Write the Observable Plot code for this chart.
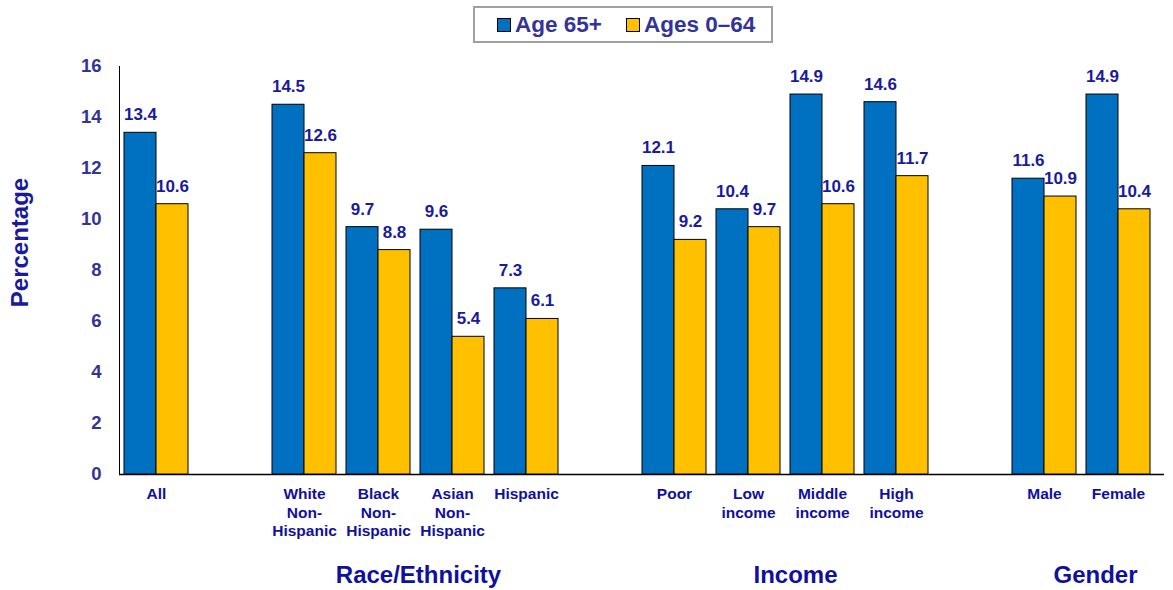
<!DOCTYPE html>
<html><head><meta charset="utf-8">
<script src="https://cdn.jsdelivr.net/npm/d3@7"></script>
<script src="https://cdn.jsdelivr.net/npm/@observablehq/plot@0.6"></script>
<style>
body{margin:0;background:#fff;font-family:"Liberation Sans",Arial,sans-serif;}
#legend{box-sizing:border-box;margin:6px 0 0 473px;width:300px;height:37px;border:2px solid #a0a0a0;display:flex;align-items:center;padding-left:22px;font-weight:bold;font-size:22.5px;color:#333399;white-space:nowrap;}
#legend .sw{display:inline-block;flex-shrink:0;width:12px;height:12px;border:1px solid #000;margin-right:4px;}
#legend .item{display:flex;flex-shrink:0;align-items:center;margin-right:24px;}
#chart{margin-top:5px;}
</style></head>
<body>
<div id="legend"></div>
<div id="chart"></div>
<script>
const categories = ["All","White Non-Hispanic","Black Non-Hispanic","Asian Non-Hispanic","Hispanic","Poor","Low income","Middle income","High income","Male","Female"];
const categoryLabels = ["All","White\nNon-\nHispanic","Black\nNon-\nHispanic","Asian\nNon-\nHispanic","Hispanic","Poor","Low\nincome","Middle\nincome","High\nincome","Male","Female"];
const slots = ["All"," ","White Non-Hispanic","Black Non-Hispanic","Asian Non-Hispanic","Hispanic","  ","Poor","Low income","Middle income","High income","   ","Male","Female"];
const seriesNames = ["Age 65+","Ages 0–64"];
const seriesColors = ["#0070c0","#ffc000"];
const age65 = [13.4,14.5,9.7,9.6,7.3,12.1,10.4,14.9,14.6,11.6,14.9];
const age0to64 = [10.6,12.6,8.8,5.4,6.1,9.2,9.7,10.6,11.7,10.9,10.4];
const groups = ["Race/Ethnicity","Income","Gender"];
const yTicks = [0,2,4,6,8,10,12,14,16];

const data = [];
categories.forEach((c,i)=>{
  data.push({cat:c, series:seriesNames[0], value:age65[i]});
  data.push({cat:c, series:seriesNames[1], value:age0to64[i]});
});
const labelData = categories.map((c,i)=>({cat:c, label:categoryLabels[i]}));
const baseData = slots.slice(0, -1).map(s=>({cat:s, y:0}));
const lastBase = [{cat: slots[slots.length-1], y:0}];

// legend
const lg = document.getElementById("legend");
seriesNames.forEach((s,i)=>{
  const it = document.createElement("span"); it.className="item";
  const sw = document.createElement("span"); sw.className="sw"; sw.style.background=seriesColors[i];
  it.appendChild(sw); it.appendChild(document.createTextNode(s)); lg.appendChild(it);
});

const blue = "#1a1a9c";
const chart = Plot.plot({
  width: 1173, height: 542,
  marginTop: 18, marginBottom: 116, marginLeft: 119, marginRight: 18,
  style: {fontFamily: '"Liberation Sans", Arial, sans-serif', background: "#fff"},
  fx: {domain: slots, padding: 0, axis: null},
  x: {domain: seriesNames, paddingInner: 0, paddingOuter: 0.156, axis: null},
  y: {domain: [0,16], axis: null},
  color: {domain: seriesNames, range: seriesColors},
  marks: [
    Plot.ruleY(baseData, {fx:"cat", y:"y", stroke:"#000", strokeWidth:1.5}),
    Plot.ruleY(lastBase, {fx:"cat", y:"y", stroke:"#000", strokeWidth:1.5, insetRight:-9}),
    Plot.text(yTicks.map(v=>({cat:"All", v})), {fx:"cat", y:"v", text: d=>String(d.v), frameAnchor:"left", textAnchor:"end", dx:-18, fontSize:18.5, fontWeight:"bold", fill:"#333399"}),
    Plot.text([{cat:"All", t:"Percentage"}], {fx:"cat", text:"t", frameAnchor:"left", textAnchor:"middle", rotate:-90, dx:-99, dy:-28, fontSize:24, fontWeight:"bold", fill: blue}),
    Plot.barY(data, {fx:"cat", x:"series", y:"value", fill:"series", stroke:"#000", strokeWidth:1}),
    Plot.text(data, {fx:"cat", x:"series", y:"value", text: d=>d.value.toFixed(1), dy:-18, fontSize:17, fontWeight:"bold", fill: blue}),
    Plot.frame({anchor:"left", facetAnchor:"left", stroke:"#000"}),
    Plot.text(labelData, {fx:"cat", text:"label", frameAnchor:"bottom", lineAnchor:"top", dy:12, lineHeight:1.17, fontSize:15.5, fontWeight:"bold", fill:"#10109c"}),
    Plot.text([{cat:"Black Non-Hispanic", t:groups[0]}], {fx:"cat", text:"t", frameAnchor:"bottom-right", textAnchor:"middle", dy:108, dx:3, fontSize:24, fontWeight:"bold", fill:"#10109c"}),
    Plot.text([{cat:"Low income", t:groups[1]}], {fx:"cat", text:"t", frameAnchor:"bottom-right", textAnchor:"middle", dy:108, dx:10, fontSize:24, fontWeight:"bold", fill:"#10109c"}),
    Plot.text([{cat:"Male", t:groups[2]}], {fx:"cat", text:"t", frameAnchor:"bottom-right", textAnchor:"middle", dy:108, dx:14, fontSize:24, fontWeight:"bold", fill:"#10109c"})
  ]
});
document.getElementById("chart").appendChild(chart);
</script>
</body></html>
